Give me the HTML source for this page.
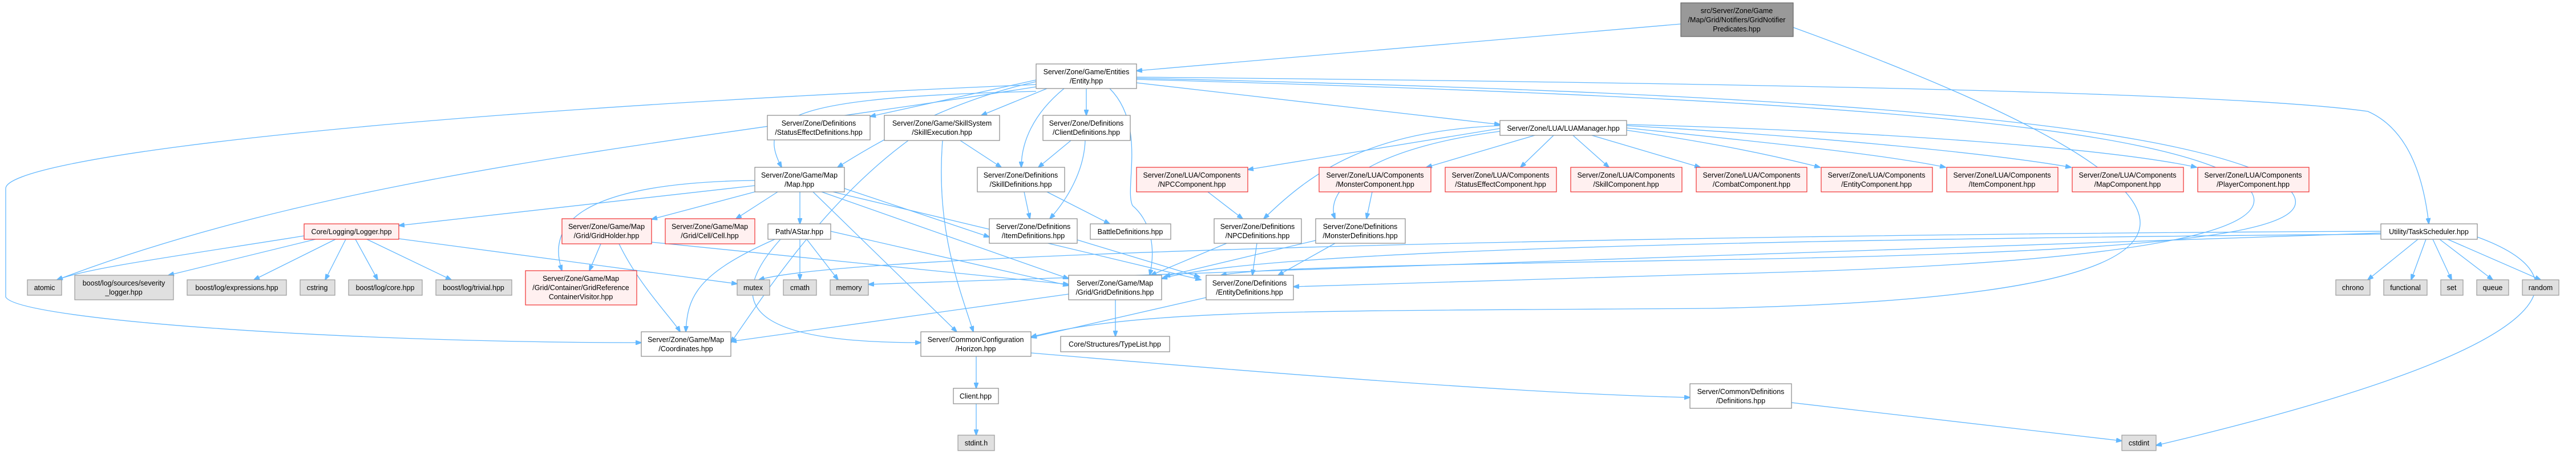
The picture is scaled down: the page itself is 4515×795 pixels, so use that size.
<!DOCTYPE html>
<html><head><meta charset="utf-8"><style>
html,body{margin:0;padding:0;background:#fff;}
svg{display:block;}
text{font-family:"Liberation Sans",Arial,sans-serif;font-size:12.5px;fill:#000;text-anchor:middle;}
.n rect{fill:#fff;stroke:#888;stroke-width:1.2;}
.r rect{fill:#fff0f0;stroke:#f03030;stroke-width:1.2;}
.g rect{fill:#e0e0e0;stroke:#999;stroke-width:1.2;}
.s rect{fill:#999;stroke:#666;stroke-width:1.2;}
path{fill:none;stroke:#63b8ff;stroke-width:1.3;}
</style></head><body>
<svg width="4515" height="795" viewBox="0 0 4515 795" xmlns="http://www.w3.org/2000/svg">
<defs><marker id="a" markerWidth="11" markerHeight="8" refX="10" refY="4" orient="auto" markerUnits="userSpaceOnUse"><path d="M0,0 L11,4 L0,8 z" style="fill:#63b8ff;stroke:#63b8ff;stroke-width:1"/></marker></defs>
<g marker-end="url(#a)">
<path d="M2946 42 L1992 124"/>
<path d="M3143 48 C4000 360,3950 520,3000 540 C2300 545,2000 540,1807 590"/>
<path d="M1816 148 C600 200,10 280,10 330 L10 520 C30 560,600 600,1124 600"/>
<path d="M1816 152 C1200 250,600 300,100 490"/>
<path d="M1816 160 C1400 170,1320 200,1370 293"/>
<path d="M1816 143 C1650 180,1520 260,1468 293"/>
<path d="M1816 140 L1525 204"/>
<path d="M1835 155 L1720 202"/>
<path d="M1865 155 C1810 200,1790 250,1790 293"/>
<path d="M1904 155 L1904 202"/>
<path d="M1945 155 C2010 220,1970 330,1985 360 C2020 390,2025 440,2015 482"/>
<path d="M1992 145 L2629 218"/>
<path d="M1992 135 C3000 145,3900 160,4150 195 C4230 230,4250 330,4257 392"/>
<path d="M1992 137 C3000 160,3800 200,4000 320 C4100 400,3900 440,3000 455 C2400 465,2200 470,2140 482"/>
<path d="M1992 139 C3100 170,3700 210,3900 300 C4050 380,3900 460,3000 480 L2267 502"/>
<path d="M4238 419 L4150 490"/>
<path d="M4252 419 L4226 490"/>
<path d="M4264 419 L4297 490"/>
<path d="M4276 419 L4369 490"/>
<path d="M4290 419 L4453 490"/>
<path d="M4342 415 C4520 480,4540 600,3779 780"/>
<path d="M4173 405 C3000 410,1500 440,1330 490"/>
<path d="M4173 408 L1522 498"/>
<path d="M4173 410 C3000 420,2200 440,2036 488"/>
<path d="M2629 225 L2187 297"/>
<path d="M2690 237 L2500 293"/>
<path d="M2723 237 L2665 293"/>
<path d="M2757 237 L2820 293"/>
<path d="M2790 237 L2980 293"/>
<path d="M2851 228 C3000 250,3100 270,3190 293"/>
<path d="M2851 224 C3100 250,3300 270,3410 293"/>
<path d="M2851 220 C3200 240,3500 270,3630 293"/>
<path d="M2851 218 C3300 230,3700 260,3850 293"/>
<path d="M2629 220 C2400 230,2300 300,2215 383"/>
<path d="M2629 230 C2400 260,2320 330,2340 383"/>
<path d="M2117 336 L2178 383"/>
<path d="M2405 336 L2395 383"/>
<path d="M2150 426 L2017 482"/>
<path d="M2203 426 L2195 482"/>
<path d="M2306 421 L2041 484"/>
<path d="M2340 426 L2240 482"/>
<path d="M1683 246 L1755 293"/>
<path d="M1592 246 C1450 350,1350 500,1281 600"/>
<path d="M1652 246 C1640 400,1680 500,1706 581"/>
<path d="M1877 246 L1820 293"/>
<path d="M1902 246 C1900 300,1870 350,1840 383"/>
<path d="M1795 336 L1805 383"/>
<path d="M1835 336 L1945 392"/>
<path d="M1888 420 L2103 485"/>
<path d="M1323 325 L699 395"/>
<path d="M1323 336 L1142 384"/>
<path d="M1363 336 L1290 383"/>
<path d="M1402 336 L1402 392"/>
<path d="M1323 316 C1000 320,960 400,985 474"/>
<path d="M1440 336 L1873 488"/>
<path d="M1460 336 L2105 490"/>
<path d="M1425 336 L1677 581"/>
<path d="M1480 330 L1734 415"/>
<path d="M533 413 C300 450,150 470,100 490"/>
<path d="M553 419 L295 482"/>
<path d="M588 419 L445 490"/>
<path d="M606 419 L570 490"/>
<path d="M623 419 L662 490"/>
<path d="M643 419 L791 490"/>
<path d="M699 418 L1292 497"/>
<path d="M1053 427 L1033 474"/>
<path d="M1085 427 C1120 500,1180 560,1192 581"/>
<path d="M1142 424 L1873 498"/>
<path d="M1358 419 C1220 480,1205 520,1202 581"/>
<path d="M1402 419 L1402 490"/>
<path d="M1414 419 L1469 490"/>
<path d="M1368 419 C1250 550,1350 600,1614 600"/>
<path d="M1456 405 L1873 500"/>
<path d="M1955 525 L1955 589"/>
<path d="M1873 515 L1281 598"/>
<path d="M2114 521 L1807 591"/>
<path d="M1711 624 L1711 680"/>
<path d="M1807 618 C2300 660,2700 690,2962 696"/>
<path d="M1711 707 L1711 762"/>
<path d="M3140 705 L3719 772"/>
</g>

<g class="s"><rect x="2946" y="5" width="197" height="59"/><text x="3044" y="23">src/Server/Zone/Game</text><text x="3044" y="39">/Map/Grid/Notifiers/GridNotifier</text><text x="3044" y="55">Predicates.hpp</text></g>
<g class="n"><rect x="1816" y="112" width="176" height="43"/><text x="1904" y="130">Server/Zone/Game/Entities</text><text x="1904" y="146">/Entity.hpp</text></g>
<g class="n"><rect x="1345" y="202" width="180" height="43"/><text x="1435" y="220">Server/Zone/Definitions</text><text x="1435" y="236">/StatusEffectDefinitions.hpp</text></g>
<g class="n"><rect x="1550" y="202" width="202" height="44"/><text x="1651" y="220">Server/Zone/Game/SkillSystem</text><text x="1651" y="236">/SkillExecution.hpp</text></g>
<g class="n"><rect x="1828" y="202" width="153" height="44"/><text x="1904" y="220">Server/Zone/Definitions</text><text x="1904" y="236">/ClientDefinitions.hpp</text></g>
<g class="n"><rect x="2629" y="211" width="222" height="26"/><text x="2740" y="229">Server/Zone/LUA/LUAManager.hpp</text></g>
<g class="n"><rect x="1323" y="293" width="157" height="43"/><text x="1401" y="311">Server/Zone/Game/Map</text><text x="1401" y="327">/Map.hpp</text></g>
<g class="n"><rect x="1713" y="293" width="153" height="43"/><text x="1789" y="311">Server/Zone/Definitions</text><text x="1789" y="327">/SkillDefinitions.hpp</text></g>
<g class="r"><rect x="1992" y="293" width="195" height="43"/><text x="2089" y="311">Server/Zone/LUA/Components</text><text x="2089" y="327">/NPCComponent.hpp</text></g>
<g class="r"><rect x="2312" y="293" width="196" height="43"/><text x="2410" y="311">Server/Zone/LUA/Components</text><text x="2410" y="327">/MonsterComponent.hpp</text></g>
<g class="r"><rect x="2533" y="293" width="195" height="43"/><text x="2630" y="311">Server/Zone/LUA/Components</text><text x="2630" y="327">/StatusEffectComponent.hpp</text></g>
<g class="r"><rect x="2753" y="293" width="195" height="43"/><text x="2850" y="311">Server/Zone/LUA/Components</text><text x="2850" y="327">/SkillComponent.hpp</text></g>
<g class="r"><rect x="2973" y="293" width="194" height="43"/><text x="3070" y="311">Server/Zone/LUA/Components</text><text x="3070" y="327">/CombatComponent.hpp</text></g>
<g class="r"><rect x="3192" y="293" width="195" height="43"/><text x="3289" y="311">Server/Zone/LUA/Components</text><text x="3289" y="327">/EntityComponent.hpp</text></g>
<g class="r"><rect x="3412" y="293" width="195" height="43"/><text x="3509" y="311">Server/Zone/LUA/Components</text><text x="3509" y="327">/ItemComponent.hpp</text></g>
<g class="r"><rect x="3632" y="293" width="195" height="43"/><text x="3729" y="311">Server/Zone/LUA/Components</text><text x="3729" y="327">/MapComponent.hpp</text></g>
<g class="r"><rect x="3852" y="293" width="195" height="43"/><text x="3949" y="311">Server/Zone/LUA/Components</text><text x="3949" y="327">/PlayerComponent.hpp</text></g>
<g class="n"><rect x="4173" y="392" width="169" height="27"/><text x="4257" y="410">Utility/TaskScheduler.hpp</text></g>
<g class="r"><rect x="533" y="392" width="166" height="27"/><text x="616" y="410">Core/Logging/Logger.hpp</text></g>
<g class="r"><rect x="985" y="383" width="157" height="44"/><text x="1063" y="401">Server/Zone/Game/Map</text><text x="1063" y="417">/Grid/GridHolder.hpp</text></g>
<g class="r"><rect x="1166" y="383" width="157" height="44"/><text x="1244" y="401">Server/Zone/Game/Map</text><text x="1244" y="417">/Grid/Cell/Cell.hpp</text></g>
<g class="n"><rect x="1346" y="392" width="110" height="27"/><text x="1401" y="410">Path/AStar.hpp</text></g>
<g class="n"><rect x="1734" y="383" width="154" height="43"/><text x="1811" y="401">Server/Zone/Definitions</text><text x="1811" y="417">/ItemDefinitions.hpp</text></g>
<g class="n"><rect x="1911" y="392" width="141" height="27"/><text x="1981" y="410">BattleDefinitions.hpp</text></g>
<g class="n"><rect x="2128" y="383" width="153" height="43"/><text x="2204" y="401">Server/Zone/Definitions</text><text x="2204" y="417">/NPCDefinitions.hpp</text></g>
<g class="n"><rect x="2306" y="383" width="157" height="43"/><text x="2384" y="401">Server/Zone/Definitions</text><text x="2384" y="417">/MonsterDefinitions.hpp</text></g>
<g class="g"><rect x="48" y="490" width="60" height="27"/><text x="78" y="508">atomic</text></g>
<g class="g"><rect x="131" y="482" width="173" height="43"/><text x="217" y="500">boost/log/sources/severity</text><text x="217" y="516">_logger.hpp</text></g>
<g class="g"><rect x="328" y="490" width="174" height="27"/><text x="415" y="508">boost/log/expressions.hpp</text></g>
<g class="g"><rect x="526" y="490" width="61" height="27"/><text x="556" y="508">cstring</text></g>
<g class="g"><rect x="611" y="490" width="129" height="27"/><text x="675" y="508">boost/log/core.hpp</text></g>
<g class="g"><rect x="764" y="490" width="133" height="27"/><text x="830" y="508">boost/log/trivial.hpp</text></g>
<g class="r"><rect x="921" y="474" width="195" height="60"/><text x="1018" y="492">Server/Zone/Game/Map</text><text x="1018" y="508">/Grid/Container/GridReference</text><text x="1018" y="524">ContainerVisitor.hpp</text></g>
<g class="g"><rect x="1292" y="490" width="57" height="27"/><text x="1320" y="508">mutex</text></g>
<g class="g"><rect x="1373" y="490" width="58" height="27"/><text x="1402" y="508">cmath</text></g>
<g class="g"><rect x="1455" y="490" width="67" height="27"/><text x="1488" y="508">memory</text></g>
<g class="n"><rect x="1873" y="482" width="163" height="43"/><text x="1954" y="500">Server/Zone/Game/Map</text><text x="1954" y="516">/Grid/GridDefinitions.hpp</text></g>
<g class="n"><rect x="2114" y="482" width="153" height="43"/><text x="2190" y="500">Server/Zone/Definitions</text><text x="2190" y="516">/EntityDefinitions.hpp</text></g>
<g class="g"><rect x="4094" y="490" width="60" height="27"/><text x="4124" y="508">chrono</text></g>
<g class="g"><rect x="4178" y="490" width="76" height="27"/><text x="4216" y="508">functional</text></g>
<g class="g"><rect x="4278" y="490" width="39" height="27"/><text x="4297" y="508">set</text></g>
<g class="g"><rect x="4341" y="490" width="56" height="27"/><text x="4369" y="508">queue</text></g>
<g class="g"><rect x="4421" y="490" width="64" height="27"/><text x="4453" y="508">random</text></g>
<g class="n"><rect x="1124" y="581" width="157" height="43"/><text x="1202" y="599">Server/Zone/Game/Map</text><text x="1202" y="615">/Coordinates.hpp</text></g>
<g class="n"><rect x="1614" y="581" width="193" height="43"/><text x="1710" y="599">Server/Common/Configuration</text><text x="1710" y="615">/Horizon.hpp</text></g>
<g class="n"><rect x="1859" y="589" width="191" height="27"/><text x="1954" y="607">Core/Structures/TypeList.hpp</text></g>
<g class="n"><rect x="1671" y="680" width="79" height="27"/><text x="1710" y="698">Client.hpp</text></g>
<g class="n"><rect x="2962" y="672" width="178" height="43"/><text x="3051" y="690">Server/Common/Definitions</text><text x="3051" y="706">/Definitions.hpp</text></g>
<g class="g"><rect x="1679" y="762" width="64" height="27"/><text x="1711" y="780">stdint.h</text></g>
<g class="g"><rect x="3719" y="762" width="60" height="27"/><text x="3749" y="780">cstdint</text></g>
</svg>
</body></html>
